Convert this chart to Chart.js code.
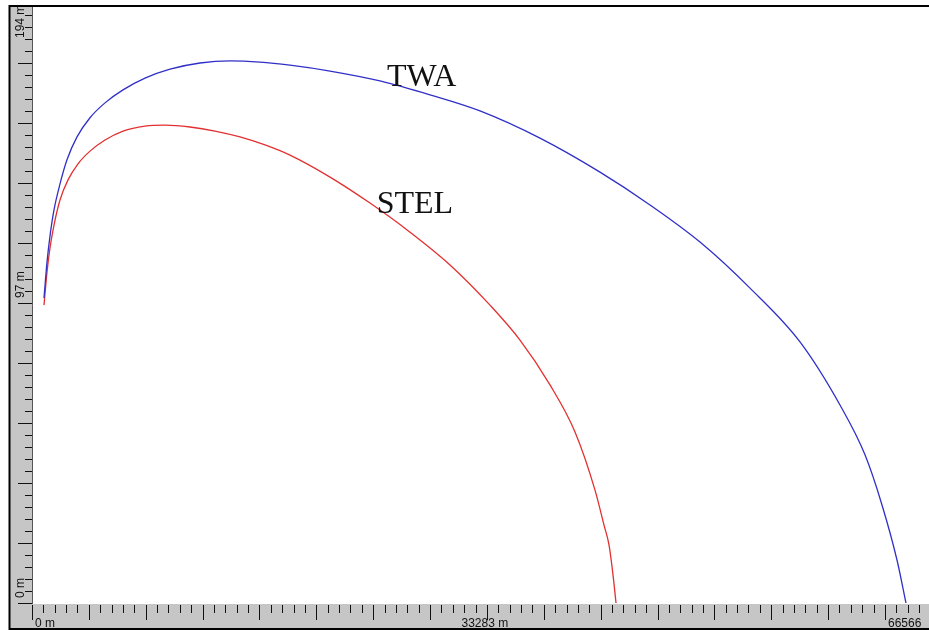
<!DOCTYPE html>
<html>
<head>
<meta charset="utf-8">
<script src="https://cdn.jsdelivr.net/npm/chart.js@4/dist/chart.umd.min.js"></script>
<style>
    html, body { margin: 0; padding: 0; background: #fff; }
    canvas { display: block; }
</style>
</head>
<body>
<canvas id="myChart" width="929" height="630"></canvas>
<script>
// downwind distance (m) and height (m)
let twaX = [936, 1171, 1405, 1717, 2185, 2731, 3512, 4526, 5697, 7102, 8819, 10770, 13111, 15452,
    17793, 20134, 23256, 27158, 31060, 34962, 39644, 44327, 48229, 52131, 56033, 59935, 63056,
    65007, 66334, 67504, 68207]
let twaY = [98.6, 110.2, 118.7, 127.1, 135.5, 143.3, 150.7, 156.9, 161.7, 165.9, 169.7, 172.6, 174.6,
    175.3, 174.9, 173.9, 172.0, 168.8, 164.3, 159.1, 150.3, 139.3, 128.7, 116.7, 101.8, 84.4, 64.0,
    47.9, 31.7, 13.9, 0]

let stelX = [936, 1171, 1405, 1717, 2185, 2810, 3590, 4526, 5697, 7102, 8819, 10379, 12330, 14281,
    16232, 18183, 20134, 23256, 26378, 29499, 32621, 35743, 38084, 40425, 42376, 43937, 44639,
    45030, 45342, 45576]
let stelY = [96.3, 107.0, 114.8, 122.2, 130.3, 136.8, 142.0, 146.1, 149.7, 152.6, 154.2, 154.5, 153.9,
    152.6, 150.7, 148.1, 144.8, 137.7, 129.3, 119.9, 109.3, 96.3, 85.0, 70.5, 55.3, 36.5, 25.2,
    18.8, 9.1, 0]

// ruler labels
let xLabelValues = [0, 33283, 66566]
let xLabelTexts = ['0 m', '33283 m', '66566']
let yLabelValues = [0, 97, 194]
let yLabelTexts = ['0 m', '97 m', '194 m']

// curve names, placed at (x m, y m) of the text's left/baseline
let curveNames = ['TWA', 'STEL']
let nameX = [27700, 26900]
let nameY = [167, 126]

let xMinorStep = 66566 / 75, yMinorStep = 97 / 25

function toPoints(xs, ys) {
    return xs.map((x, i) => ({ x: x, y: ys[i] }))
}

// draw the grey rulers, ticks, labels and frame
const rulerPlugin = {
    id: 'ruler',
    beforeDraw(chart) {
        const c = chart.ctx
        c.save()
        c.fillStyle = '#fff'
        c.fillRect(0, 0, chart.width, chart.height)
        c.fillStyle = '#c6c6c6'
        c.fillRect(10, 7, 23, 598)
        c.fillRect(10, 604, chart.width - 10, 25)
        c.restore()
    },
    afterDraw(chart) {
        const c = chart.ctx, a = chart.chartArea
        const xs = chart.scales.x, ys = chart.scales.y
        c.save()
        c.strokeStyle = '#111'
        c.lineWidth = 1
        // left ruler ticks
        for (let i = 0; ; i++) {
            let v = i * yMinorStep
            let py = Math.round(ys.getPixelForValue(v)) + 0.5
            if (py < a.top) break
            c.beginPath()
            c.moveTo(i % 5 == 0 ? 18 : 25, py)
            c.lineTo(33, py)
            c.stroke()
        }
        // bottom ruler ticks
        for (let i = 0; ; i++) {
            let v = i * xMinorStep
            let px = Math.round(xs.getPixelForValue(v)) + 0.5
            if (px > a.right) break
            c.beginPath()
            c.moveTo(px, 605)
            c.lineTo(px, i % 5 == 0 ? 620 : 613)
            c.stroke()
        }
        // ruler edges
        c.strokeStyle = '#555'
        c.beginPath(); c.moveTo(32.5, 7); c.lineTo(32.5, 604); c.stroke()
        c.strokeStyle = '#fff'
        c.beginPath(); c.moveTo(33, 603.5); c.lineTo(chart.width, 603.5); c.stroke()

        c.fillStyle = '#111'
        c.font = '12px "Liberation Sans", Arial, sans-serif'
        c.textBaseline = 'bottom'
        c.textAlign = 'left'
        xLabelValues.forEach((v, i) => {
            c.fillText(xLabelTexts[i], xs.getPixelForValue(v) + 3, 630)
        })
        yLabelValues.forEach((v, i) => {
            let py = Math.max(ys.getPixelForValue(v) - 5, 38)
            c.save()
            c.translate(24, py)
            c.rotate(-Math.PI / 2)
            c.textBaseline = 'alphabetic'
            c.fillText(yLabelTexts[i], 0, 0)
            c.restore()
        })

        // frame
        c.strokeStyle = '#000'
        c.lineWidth = 2
        c.beginPath()
        c.moveTo(chart.width, 6)
        c.lineTo(9.5, 6)
        c.lineTo(9.5, 629)
        c.lineTo(chart.width, 629)
        c.stroke()

        // curve names
        c.font = '32px "Liberation Serif", "Times New Roman", serif'
        c.textBaseline = 'alphabetic'
        curveNames.forEach((n, i) => {
            c.fillText(n, xs.getPixelForValue(nameX[i]), ys.getPixelForValue(nameY[i]))
        })
        c.restore()
    }
}

let ctx = document.getElementById('myChart').getContext('2d')
let myChart = new Chart(ctx, {
    type: 'line',
    data: {
        datasets: [{
            label: 'TWA',
            data: toPoints(twaX, twaY),
            borderColor: '#3030c8',
            borderWidth: 1.3,
            pointRadius: 0,
            cubicInterpolationMode: 'monotone'
        }, {
            label: 'STEL',
            data: toPoints(stelX, stelY),
            borderColor: '#e33030',
            borderWidth: 1.3,
            pointRadius: 0,
            cubicInterpolationMode: 'monotone'
        }]
    },
    options: {
        responsive: false,
        animation: false,
        layout: { padding: { left: 34, top: 7, right: 0, bottom: 27 } },
        plugins: { legend: { display: false }, tooltip: { enabled: false } },
        scales: {
            x: { type: 'linear', min: 156, max: 70002, display: false },
            y: { type: 'linear', min: 0, max: 192.7, display: false }
        }
    },
    plugins: [rulerPlugin]
})
</script>
</body>
</html>
